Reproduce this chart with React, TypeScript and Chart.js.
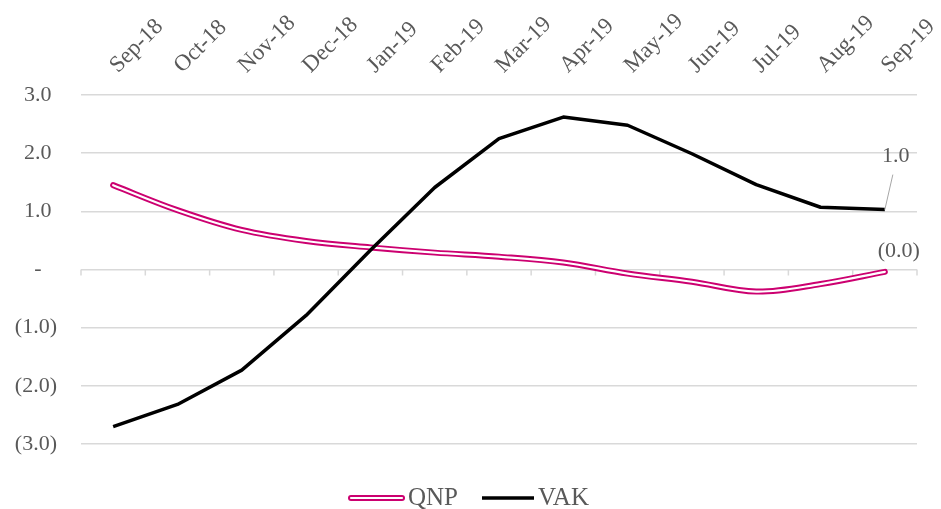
import React, { useEffect, useRef } from "react";
import { Chart, registerables } from "chart.js";

Chart.register(...registerables);

const categories = ["Sep-18", "Oct-18", "Nov-18", "Dec-18", "Jan-19", "Feb-19", "Mar-19", "Apr-19", "May-19", "Jun-19", "Jul-19", "Aug-19", "Sep-19"];
const qnpValues = [1.45, 1.02, 0.68, 0.49, 0.38, 0.29, 0.22, 0.12, -0.07, -0.21, -0.38, -0.25, -0.04];
const vakValues = [-2.7, -2.32, -1.73, -0.79, 0.33, 1.41, 2.25, 2.62, 2.48, 1.99, 1.46, 1.07, 1.03];
const yMin = -3;
const yMax = 3;
const yStep = 1;

const FONT_FAMILY = "'Liberation Serif', 'Times New Roman', serif";
const TEXT_COLOR = "#595959";
const GRID_COLOR = "#D9D9D9";
const QNP_COLOR = "#CC0070";
const VAK_COLOR = "#000000";

function fmtValue(v: number): string {
  if (v < 0) return "(" + Math.abs(v).toFixed(1) + ")";
  return v.toFixed(1);
}

function fmtTick(v: number): string {
  if (Math.abs(v) < 1e-9) return "-  \u2009";
  if (v < 0) return "(" + Math.abs(v).toFixed(1) + ")";
  return v.toFixed(1) + " ";
}

const zeroTicksPlugin = {
  id: "zeroTicks",
  beforeDatasetsDraw(chart: any) {
    const { ctx } = chart;
    const xs = chart.scales.x;
    const ys = chart.scales.y;
    const y0 = ys.getPixelForValue(0);
    ctx.save();
    ctx.strokeStyle = GRID_COLOR;
    ctx.lineWidth = 1.5;
    ctx.beginPath();
    for (let i = 0; i <= categories.length; i++) {
      const px = xs.getPixelForValue(i - 0.5);
      ctx.moveTo(px, y0);
      ctx.lineTo(px, y0 + 6);
    }
    ctx.stroke();
    ctx.restore();
  },
};

const dataLabelsPlugin = {
  id: "endLabels",
  afterDatasetsDraw(chart: any) {
    const { ctx } = chart;
    ctx.save();
    ctx.font = `22px ${FONT_FAMILY}`;
    ctx.fillStyle = TEXT_COLOR;
    ctx.textAlign = "center";
    ctx.textBaseline = "middle";
    // VAK last point
    const vakMeta = chart.getDatasetMeta(0);
    const vp = vakMeta.data[vakMeta.data.length - 1];
    const vv = vakValues[vakValues.length - 1];
    ctx.strokeStyle = "#A6A6A6";
    ctx.lineWidth = 1;
    ctx.beginPath();
    ctx.moveTo(vp.x, vp.y);
    ctx.lineTo(vp.x + 8, vp.y - 35);
    ctx.stroke();
    ctx.fillText(fmtValue(vv), vp.x + 11, vp.y - 53);
    // QNP last point
    const qMeta = chart.getDatasetMeta(2);
    const qp = qMeta.data[qMeta.data.length - 1];
    const qv = qnpValues[qnpValues.length - 1];
    ctx.fillText(fmtValue(qv), qp.x + 14, qp.y - 21);
    ctx.restore();
  },
};

const legendPlugin = {
  id: "customLegend",
  afterDraw(chart: any) {
    const { ctx } = chart;
    const y = 498;
    ctx.save();
    ctx.font = `25px ${FONT_FAMILY}`;
    ctx.fillStyle = TEXT_COLOR;
    ctx.textAlign = "left";
    ctx.textBaseline = "middle";
    ctx.lineCap = "round";
    // QNP double line
    ctx.strokeStyle = QNP_COLOR;
    ctx.lineWidth = 6;
    ctx.beginPath();
    ctx.moveTo(351, y);
    ctx.lineTo(402, y);
    ctx.stroke();
    ctx.strokeStyle = "#ffffff";
    ctx.lineWidth = 2.2;
    ctx.beginPath();
    ctx.moveTo(351, y);
    ctx.lineTo(402, y);
    ctx.stroke();
    ctx.fillText(chart.data.datasets[2].label, 408, y);
    // VAK line
    ctx.lineCap = "butt";
    ctx.strokeStyle = VAK_COLOR;
    ctx.lineWidth = 3.5;
    ctx.beginPath();
    ctx.moveTo(482, y);
    ctx.lineTo(534, y);
    ctx.stroke();
    ctx.fillText(chart.data.datasets[0].label, 538, y);
    ctx.restore();
  },
};

export default function App() {
  const canvasRef = useRef<HTMLCanvasElement | null>(null);

  useEffect(() => {
    if (!canvasRef.current) return;
    const font = { family: FONT_FAMILY, size: 22 };
    const chart = new Chart(canvasRef.current, {
      type: "line",
      data: {
        labels: categories,
        datasets: [
          {
            label: "VAK",
            data: vakValues,
            borderColor: VAK_COLOR,
            borderWidth: 3.5,
            tension: 0,
            pointRadius: 0,
            borderJoinStyle: "round",
            borderCapStyle: "butt",
            fill: false,
            order: 0,
          },
          {
            label: "QNP-inner",
            data: qnpValues,
            borderColor: "#ffffff",
            borderWidth: 2.2,
            tension: 0.35,
            pointRadius: 0,
            borderCapStyle: "round",
            borderJoinStyle: "round",
            fill: false,
            order: 1,
          },
          {
            label: "QNP",
            data: qnpValues,
            borderColor: QNP_COLOR,
            borderWidth: 6,
            tension: 0.35,
            pointRadius: 0,
            borderCapStyle: "round",
            borderJoinStyle: "round",
            fill: false,
            order: 2,
          },
        ],
      },
      options: {
        responsive: false,
        animation: false,
        layout: { padding: { left: 0, right: 24, top: 0, bottom: 65 } },
        plugins: {
          legend: { display: false },
          tooltip: { enabled: false },
        },
        scales: {
          x: {
            position: "top",
            offset: true,
            grid: { display: false, drawTicks: false },
            border: { display: false },
            ticks: {
              autoSkip: false,
              minRotation: 45,
              maxRotation: 45,
              padding: 16,
              labelOffset: 20,
              color: TEXT_COLOR,
              font: { family: FONT_FAMILY, size: 23 },
            },
            afterFit: (s: any) => {
              s.height = 95;
              s.paddingLeft = 0;
              s.paddingRight = 0;
            },
          },
          y: {
            min: yMin,
            max: yMax,
            ticks: {
              stepSize: yStep,
              padding: 24,
              color: TEXT_COLOR,
              font,
              callback: (v: any) => fmtTick(Number(v)),
            },
            grid: { color: GRID_COLOR, lineWidth: 1.5, drawTicks: false },
            border: { display: false },
            afterFit: (s: any) => {
              s.width = 81;
              s.paddingTop = 0;
              s.paddingBottom = 0;
            },
          },
        },
      },
      plugins: [zeroTicksPlugin, dataLabelsPlugin, legendPlugin],
    } as any);
    return () => chart.destroy();
  }, []);

  return (
    <div style={{ position: "fixed", left: 0, top: 0, width: 941, height: 509, background: "#ffffff" }}>
      <canvas ref={canvasRef} width={941} height={509} style={{ display: "block" }} />
    </div>
  );
}
